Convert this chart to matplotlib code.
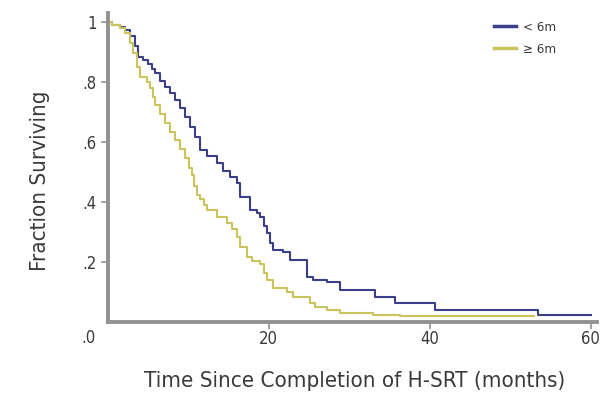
import matplotlib
matplotlib.use('Agg')
import matplotlib.pyplot as plt

# font: narrow look like the original figure
plt.rcParams['font.family'] = ['DejaVu Sans']
plt.rcParams['font.stretch'] = 'condensed'

# Kaplan-Meier curves (time in months, fraction surviving)
t_lt6 = [0, 0.6, 1.5, 2.2, 2.8, 3.4, 3.8, 4.4, 5.0, 5.5, 5.9, 6.5, 7.1, 7.7, 8.4, 9.0,
         9.6, 10.3, 10.9, 11.5, 12.4, 13.6, 14.4, 15.2, 16.1, 16.5, 17.7, 18.6,
         18.9, 19.4, 19.8, 20.2, 20.6, 21.8, 22.7, 24.8, 25.5, 27.2, 28.9, 33.2,
         35.7, 40.7, 53.4, 60.0]
s_lt6 = [1.0, 0.99, 0.985, 0.973, 0.955, 0.92, 0.885, 0.873, 0.86, 0.845, 0.83, 0.805,
         0.785, 0.762, 0.74, 0.712, 0.685, 0.65, 0.617, 0.575, 0.552, 0.53, 0.505,
         0.485, 0.463, 0.417, 0.375, 0.362, 0.35, 0.32, 0.297, 0.265, 0.24, 0.232,
         0.207, 0.15, 0.14, 0.133, 0.107, 0.083, 0.063, 0.04, 0.023, 0.023]

t_ge6 = [0, 0.6, 1.5, 2.2, 2.8, 3.2, 3.7, 4.0, 4.9, 5.3, 5.6, 5.9, 6.5, 7.1, 7.7, 8.4,
         9.0, 9.6, 10.1, 10.5, 10.8, 11.1, 11.5, 12.0, 12.4, 13.6, 14.8, 15.5,
         16.1, 16.5, 17.3, 18.0, 18.9, 19.4, 19.8, 20.6, 22.3, 23.0, 25.2, 25.8,
         27.3, 28.9, 33.0, 36.3, 53.0]
s_ge6 = [1.0, 0.99, 0.982, 0.963, 0.93, 0.897, 0.85, 0.817, 0.80, 0.78, 0.75, 0.723,
         0.693, 0.663, 0.635, 0.607, 0.577, 0.547, 0.515, 0.49, 0.455, 0.423, 0.41,
         0.39, 0.373, 0.35, 0.33, 0.31, 0.283, 0.25, 0.217, 0.205, 0.193, 0.165,
         0.14, 0.113, 0.10, 0.083, 0.063, 0.05, 0.04, 0.03, 0.023, 0.02, 0.02]

x_ticks = [20, 40, 60]
y_ticks = [0.2, 0.4, 0.6, 0.8, 1.0]
y_tick_labels = ['.2', '.4', '.6', '.8', '1']

BLUE = '#3b3f88'
YELLOW = '#cbc45c'
AXIS = '#929292'
TEXT = '#3a3a3a'

fig = plt.figure(figsize=(6.06, 3.98), dpi=100)
ax = fig.add_axes([0.1774, 0.191, 0.808, 0.776])

ax.step(t_lt6, s_lt6, where='post', color=BLUE, lw=1.5, label='< 6m')
ax.step(t_ge6, s_ge6, where='post', color=YELLOW, lw=1.5, label='\u2265 6m')

ax.set_xlim(0, 60.8)
ax.set_ylim(0, 1.03)

for side in ['top', 'right']:
    ax.spines[side].set_visible(False)
for side in ['left', 'bottom']:
    ax.spines[side].set_color(AXIS)
    ax.spines[side].set_linewidth(2.8)

ax.set_xticks(x_ticks)
ax.set_xticklabels([str(v) for v in x_ticks])
ax.set_yticks(y_ticks)
ax.set_yticklabels(y_tick_labels)
ax.tick_params(axis='both', colors=AXIS, length=5, width=1.2, labelsize=12,
               labelcolor=TEXT)
ax.tick_params(axis='x', pad=1)
ax.tick_params(axis='y', pad=3)

# the ".0" sits down at the x tick label row
fig.text(96 / 606, 1 - 338 / 398, '.0', ha='right', va='center',
         fontsize=12, color=TEXT)

fig.text(355 / 606, 1 - 381 / 398, 'Time Since Completion of H-SRT (months)',
         ha='center', va='center', fontsize=16, color=TEXT)
fig.text(40 / 606, 1 - 181 / 398, 'Fraction Surviving', rotation=90,
         ha='center', va='center', fontsize=16, color=TEXT)

leg = ax.legend(loc='upper left', bbox_to_anchor=(482 / 606, 1 - 9 / 398),
                bbox_transform=fig.transFigure, frameon=False, fontsize=9.5,
                handlelength=1.7, handletextpad=0.5, labelspacing=0.7,
                labelcolor=TEXT)
for line in leg.get_lines():
    line.set_linewidth(2.5)

fig.savefig('out.png', dpi=100)
